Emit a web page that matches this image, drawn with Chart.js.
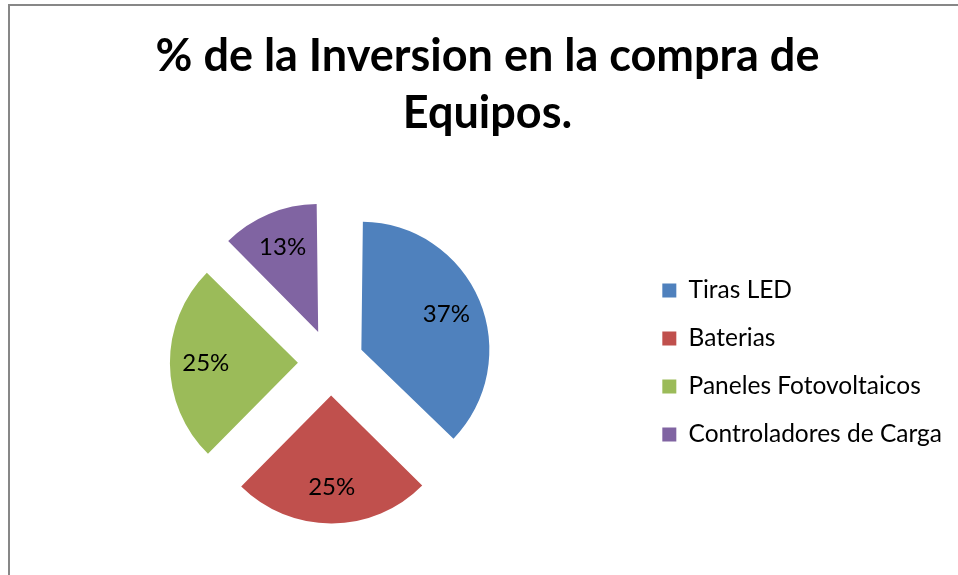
<!DOCTYPE html>
<html>
<head>
<meta charset="UTF-8" />
<title>% de la Inversion en la compra de Equipos.</title>
<script src="https://cdn.jsdelivr.net/npm/chart.js"></script>
<style>
  body{margin:0;background:#fff;}
  .wrap{position:relative;width:958px;height:575px;overflow:hidden;}
  .frame{position:absolute;left:8px;top:4px;width:980px;height:600px;border-top:2px solid #878787;border-left:2px solid #878787;}
  canvas{position:absolute;left:0;top:0;}
</style>
</head>
<body>
<div class="wrap">
  <div class="frame"></div>
  <canvas id="pie" width="958" height="575"></canvas>
</div>
<script>
  const categories = ["Tiras LED", "Baterias", "Paneles Fotovoltaicos", "Controladores de Carga"];
  const values = [37.4, 25, 25, 12.6];
  const colors = ["#4F81BD", "#C0504D", "#9BBB59", "#8064A2"];
  const titleLines = ["% de la Inversion en la compra de", "Equipos."];

  const EXPLODE = 132;   // chart.js moves a slice by offset/4
  const RADIUS = 128;

  // chart.js also grows non-right-angle slices when they are offset; undo that
  const keepRadius = {
    id: "keepRadius",
    afterDatasetsUpdate(chart){
      chart.getDatasetMeta(0).data.forEach(arc => {
        const fix = 1 - Math.sin(Math.min(Math.PI, arc.circumference));
        arc.outerRadius = RADIUS - EXPLODE / 4 * fix;
      });
    }
  };

  const sliceLabels = {
    id: "sliceLabels",
    afterDatasetsDraw(chart){
      const ctx = chart.ctx;
      const total = values.reduce((a, b) => a + b, 0);
      ctx.save();
      ctx.font = "24px Lato";
      ctx.fillStyle = "#000";
      ctx.textAlign = "center";
      ctx.textBaseline = "middle";
      chart.getDatasetMeta(0).data.forEach((arc, i) => {
        const mid = (arc.startAngle + arc.endAngle) / 2;
        const d = EXPLODE / 4 + RADIUS * 0.72;
        ctx.fillText(Math.round(values[i] / total * 100) + "%", arc.x + Math.cos(mid) * d, arc.y + Math.sin(mid) * d);
      });
      ctx.restore();
    }
  };

  new Chart(document.getElementById("pie"), {
    type: "pie",
    data: {
      labels: categories,
      datasets: [{
        data: values,
        backgroundColor: colors,
        borderWidth: 0,
        offset: EXPLODE,
        hoverOffset: 0,
        radius: RADIUS
      }]
    },
    options: {
      responsive: false,
      animation: false,
      events: [],
      layout: { padding: { left: 23, right: 6, top: 0, bottom: 10 } },
      plugins: {
        title: {
          display: true,
          text: titleLines,
          color: "#000",
          font: { family: "Lato", size: 45, weight: "bold", lineHeight: 1.267 },
          padding: { top: 27.5, bottom: 18.5 }
        },
        legend: {
          position: "right",
          fullSize: false,
          labels: {
            color: "#000",
            font: { family: "Lato", size: 24.5 },
            boxWidth: 14,
            boxHeight: 14,
            padding: 23.5
          }
        },
        tooltip: { enabled: false }
      }
    },
    plugins: [keepRadius, sliceLabels]
  });
</script>
</body>
</html>
